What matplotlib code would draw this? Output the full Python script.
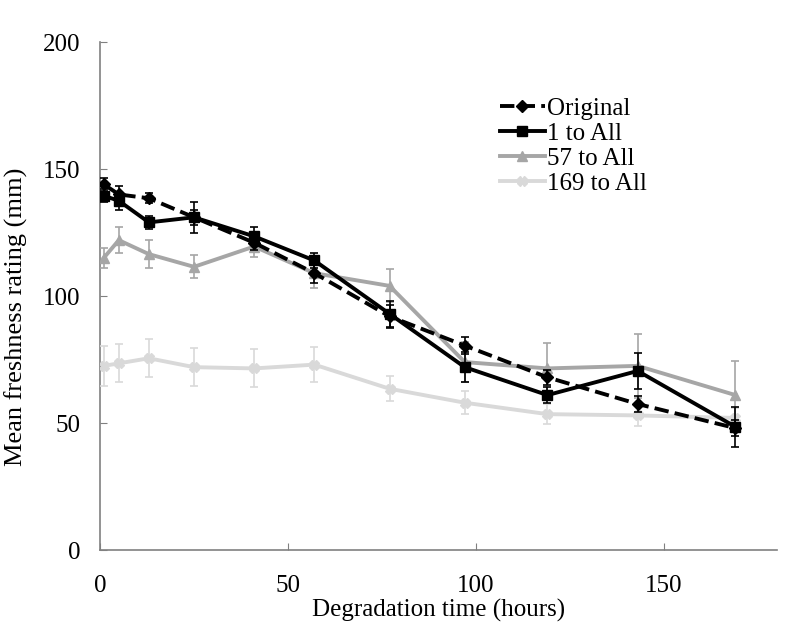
import numpy as np
import matplotlib
matplotlib.use("Agg")
import matplotlib.pyplot as plt
from matplotlib.lines import Line2D

plt.rcParams['font.family'] = ['Liberation Serif', 'DejaVu Serif']

# Tiempo de degradacion (horas)
horas = [1, 5, 13, 25, 41, 57, 77, 97, 119, 143, 169]

# Series y errores
original = [144, 140, 138.5, 131, 121, 109, 92, 80.5, 68, 57.5, 48]
original_err = [2.5, 3.5, 2, 3, 3, 4, 4.5, 3.5, 3, 3, 3]

uno_todos = [139.5, 137.5, 129, 131, 123.5, 114, 93, 72, 61, 70.5, 48.5]
uno_todos_err = [2.5, 3.5, 2.5, 6, 3.5, 3, 5, 6, 3, 7, 8]

cincuenta_siete = [115, 122, 116.5, 111.5, 119.5, 109, 104, 74, 71.5, 72.5, 61]
cincuenta_siete_err = [4, 5, 5.5, 4.5, 4, 6, 6.5, 8, 10, 12.5, 13.5]

ciento_sesenta_nueve = [72.5, 73.5, 75.5, 72, 71.5, 73, 63.5, 58, 53.5, 53, 52]
ciento_sesenta_nueve_err = [8, 7.5, 7.5, 7.5, 7.5, 7, 5, 4.5, 4, 4, 4]

etiquetas = ['Original', '1 to All', '57 to All', '169 to All']

fig = plt.figure(figsize=(8, 6.43), dpi=100)
ax = fig.add_axes([0.125, 0.1446, 0.846, 0.79])

series = [
    (original, original_err, 'black', '--', 'D', 6),
    (uno_todos, uno_todos_err, 'black', '-', 's', 7),
    (cincuenta_siete, cincuenta_siete_err, '#a6a6a6', '-', '^', 7),
    (ciento_sesenta_nueve, ciento_sesenta_nueve_err, '#d9d9d9', '-', 'X', 7),
]

# Dibujar en orden inverso para que las negras queden arriba
handles = []
for i in reversed(range(len(series))):
    y, err, color, ls, mk, ms = series[i]
    ax.errorbar(horas, y, yerr=err, color=color, linestyle=ls, linewidth=2.8,
                marker=mk, markersize=ms, ecolor=color, elinewidth=1.2,
                capsize=3, capthick=1.2, zorder=3 + (4 - i))
for i in range(len(series)):
    y, err, color, ls, mk, ms = series[i]
    handles.append(Line2D([], [], color=color, linestyle=ls, linewidth=2.8,
                          marker=mk, markersize=ms))

ax.legend(handles, etiquetas, loc='upper left', bbox_to_anchor=(0.572, 0.916),
          frameon=False, fontsize=18, handlelength=1.8, handletextpad=0.1,
          labelspacing=0.1, borderpad=0)

ax.set_xlim(0, 180)
ax.set_ylim(0, 200)
ax.set_xticks([0, 50, 100, 150])
ax.set_yticks([0, 50, 100, 150, 200])
ax.set_xlabel('Degradation time (hours)', fontsize=18, labelpad=1)
ax.set_ylabel('Mean freshness rating (mm)', fontsize=19)
ax.yaxis.set_label_coords(-0.106, 0.46)

for lado in ['top', 'right']:
    ax.spines[lado].set_visible(False)
for lado in ['left', 'bottom']:
    ax.spines[lado].set_color('#808080')
    ax.spines[lado].set_linewidth(1.2)
ax.tick_params(direction='in', length=5, color='#808080', labelsize=18, pad=14)
ax.tick_params(axis='x', pad=18)

fig.savefig('out.png', dpi=100)
